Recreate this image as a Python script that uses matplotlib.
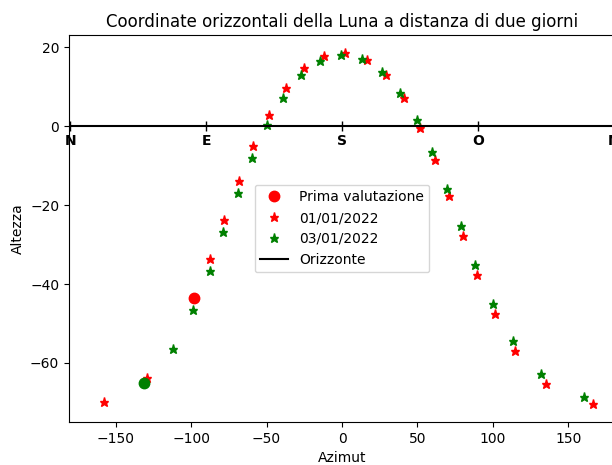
import numpy as np
from matplotlib import pyplot as plt

#Dati (azimut, altezza)
az_01 = [-157.8, -129.1, -98.4, -87.7, -78.0, -68.3, -59.2, -48.2, -37.1, -25.0, -11.7, 2.2,
         16.4, 29.2, 40.9, 51.7, 61.9, 71.2, 80.5, 89.8, 101.2, 114.9, 135.1, 166.4]
alt_01 = [-70.0, -63.9, -43.4, -33.7, -23.7, -13.9, -5.1, 2.9, 9.7, 14.9, 17.9, 18.7,
          16.8, 12.9, 7.1, -0.3, -8.6, -17.7, -27.8, -37.8, -47.7, -57.0, -65.4, -70.5]

az_03 = [-131.1, -112.3, -98.6, -87.5, -78.7, -69.2, -59.9, -49.5, -39.3, -27.2, -14.6, -0.4,
         13.3, 26.5, 38.5, 49.7, 59.7, 69.9, 78.9, 88.4, 99.9, 113.4, 132.0, 160.5]
alt_03 = [-65.0, -56.4, -46.6, -36.7, -26.8, -17.0, -7.9, 0.3, 7.3, 13.0, 16.5, 18.1,
          17.1, 13.8, 8.5, 1.7, -6.6, -15.8, -25.2, -35.2, -45.1, -54.5, -62.9, -68.5]

prima_01 = (-98.4, -43.4)
prima_03 = (-131.1, -65.0)

punti_cardinali = ["N", "E", "S", "O", "N"]
az_cardinali = [-180, -90, 0, 90, 180]

#Grafico
fig = plt.figure(figsize=(6.12, 4.65), dpi=100)
ax = fig.add_axes([0.1127, 0.0925, 0.8923, 0.8322])

ax.plot(prima_01[0], prima_01[1], "ro", markersize=7.5, label="Prima valutazione")
ax.plot(az_01, alt_01, "r*", linestyle="none", markersize=6.5, label="01/01/2022")
ax.plot(az_03, alt_03, "g*", linestyle="none", markersize=6.5, label="03/01/2022")
ax.plot(prima_03[0], prima_03[1], "go", markersize=7.5)
ax.axhline(0, color="black", label="Orizzonte")
ax.plot(az_cardinali, [0]*len(az_cardinali), "k|", markersize=7)

for lab, az in zip(punti_cardinali, az_cardinali):
    ax.text(az, -3.8, lab, ha="center", va="center", fontweight="bold", fontsize=10)

ax.set_xlim(-181, 181)
ax.set_title("Coordinate orizzontali della Luna a distanza di due giorni")
ax.set_xlabel("Azimut")
ax.set_ylabel("Altezza")
ax.legend(loc="center")

fig.savefig("out.png", dpi=100)
